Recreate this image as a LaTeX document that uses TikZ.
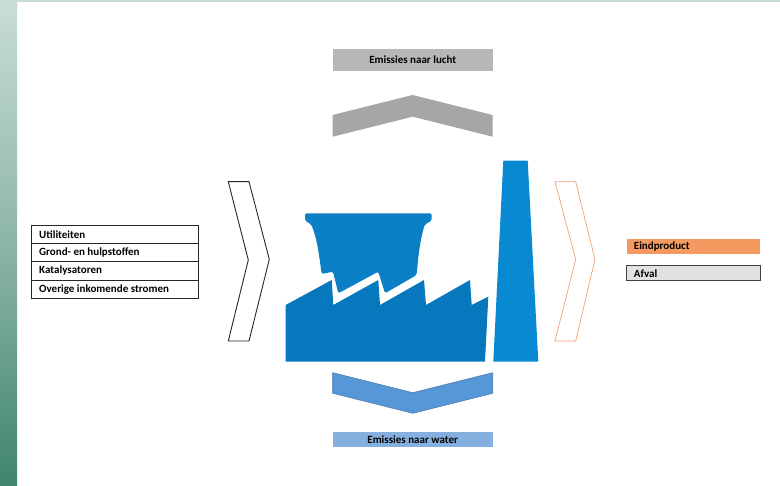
\documentclass[tikz,border=0pt]{standalone}
\usepackage{fontspec}
\setmainfont{Carlito}
\definecolor{stripetop}{HTML}{C9DDD8}
\definecolor{stripemid}{HTML}{8DB5A9}
\definecolor{stripebot}{HTML}{3F8570}
\definecolor{towerblue}{HTML}{0B7FC6}
\definecolor{buildblue}{HTML}{0878BE}
\definecolor{chimblue}{HTML}{0A89D3}
\definecolor{airgrey}{HTML}{A6A6A6}
\definecolor{airbox}{HTML}{B7B7B7}
\definecolor{waterblue}{HTML}{5697D8}
\definecolor{waterline}{HTML}{4A7FB0}
\definecolor{waterbox}{HTML}{85AFDF}
\definecolor{prodorange}{HTML}{F4995F}
\definecolor{wastegrey}{HTML}{E2E2E2}
\definecolor{orangeline}{HTML}{EFA47A}
\tikzset{
  x=1pt,y=-1pt,
  lab/.style={font=\bfseries\fontsize{11}{13}\selectfont,text=black,inner sep=0pt},
  rowbox/.style={draw=black!85,line width=0.9pt,fill=white,minimum width=167pt,minimum height=18.2pt,inner sep=0pt,outer sep=0pt},
  sidebox/.style={minimum width=133.5pt,inner sep=0pt,outer sep=0pt},
  widebox/.style={minimum width=160pt,inner sep=0pt,outer sep=0pt}
}
\begin{document}
\begin{tikzpicture}
\useasboundingbox (0,0) rectangle (780,486);
\fill[white] (0,0) rectangle (780,486);
\fill[stripetop] (0,0) rectangle (780,2);
\fill[top color=stripetop,bottom color=stripemid] (0,0) rectangle (17,243);
\fill[top color=stripemid,bottom color=stripebot] (0,243) rectangle (17,486);
% left list
\node[rowbox,anchor=north west] (r1) at (31,225.5) {};
\node[rowbox,anchor=north west] (r2) at (r1.south west) {};
\node[rowbox,anchor=north west] (r3) at (r2.south west) {};
\node[rowbox,anchor=north west] (r4) at (r3.south west) {};
\node[lab,anchor=west] (t1) at ([xshift=8pt]r1.west) {Utiliteiten};
\node[lab,anchor=west] (t2) at ([xshift=8pt]r2.west) {Grond- en hulpstoffen};
\node[lab,anchor=west] (t3) at ([xshift=8pt]r3.west) {Katalysatoren};
\node[lab,anchor=west] (t4) at ([xshift=8pt]r4.west) {Overige inkomende stromen};
% chevrons
\draw[black!85,line width=0.9pt,fill=white] (228.3,181.7) -- (249,181.7) -- (269.3,259.3) -- (249,341) -- (228.3,341) -- (248.3,260) -- cycle;
\draw[orangeline,line width=0.7pt,fill=white] (555,181.7) -- (575.7,181.7) -- (595,259.3) -- (575.7,341) -- (555,341) -- (575.7,259.3) -- cycle;
\fill[airgrey] (332.7,115) -- (412.7,95) -- (492.7,115) -- (492.7,136.7) -- (412.7,116.7) -- (332.7,136.7) -- cycle;
\draw[waterline,line width=0.6pt,fill=waterblue] (332.7,372.7) -- (412.7,392.7) -- (492.7,372.7) -- (492.7,393.3) -- (412.7,413.3) -- (332.7,393.3) -- cycle;
% factory
\fill[towerblue,rounded corners=2pt] (305,213.3) -- (431.7,213.3) -- (431.7,221) -- (425,224)
  .. controls (420,240) and (418,258) .. (416.7,275) -- (385,293.3) -- (378.3,271.7) -- (338.3,293.3) -- (333,271.7) -- (321.7,274)
  .. controls (319,255) and (317,238) .. (311,224) -- (305,221) -- cycle;
\fill[buildblue] (285.7,305) -- (331.7,280) -- (333.3,305) -- (378.3,280) -- (380,305) -- (424,280) -- (426,305) -- (470,280) -- (471.7,305) -- (488.3,296.7) -- (485,361.7) -- (285.7,361.7) -- cycle;
\fill[chimblue] (503.3,160.7) -- (527.7,160.7) -- (538.3,361.7) -- (493.3,361.7) -- cycle;
% boxes
\node[widebox,fill=airbox,minimum height=21.7pt,anchor=north west] (air) at (332.7,49) {};
\node[lab] (airt) at (air.center) {Emissies naar lucht};
\node[widebox,fill=waterbox,minimum height=15.6pt,anchor=north west] (water) at (332.7,431.7) {};
\node[lab] (watert) at (water.center) {Emissies naar water};
\node[sidebox,fill=prodorange,minimum height=15.3pt,anchor=north west] (prod) at (626.7,239) {};
\node[lab,anchor=west] (prodt) at ([xshift=7pt]prod.west) {Eindproduct};
\node[sidebox,fill=wastegrey,draw=black!75,line width=0.9pt,minimum height=15pt,anchor=north west] (waste) at (626.7,265.7) {};
\node[lab,anchor=west] (wastet) at ([xshift=7pt]waste.west) {Afval};
\end{tikzpicture}
\end{document}
